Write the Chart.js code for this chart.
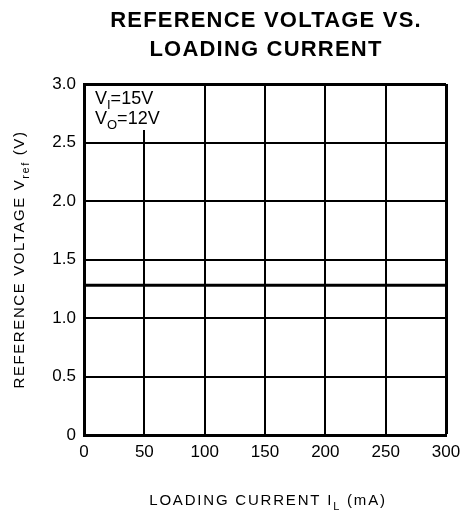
<!DOCTYPE html>
<html>
<head>
<meta charset="utf-8">
<script src="https://cdn.jsdelivr.net/npm/chart.js"></script>
<style>
  html, body { margin: 0; padding: 0; background: #fff; }
  #wrap { width: 462px; height: 517px; }
</style>
</head>
<body>
<div id="wrap"><canvas id="refChart" width="462" height="517"></canvas></div>
<script>
// data
const loadCurrent = [0, 50, 100, 150, 200, 250, 300];        // mA
const refVoltage = [1.28, 1.28, 1.28, 1.28, 1.28, 1.28, 1.28]; // V
const xTicks = [0, 50, 100, 150, 200, 250, 300];
const yTicks = [0, 0.5, 1.0, 1.5, 2.0, 2.5, 3.0];

const FONT = '"Liberation Sans", Arial, Helvetica, sans-serif';

// draw a line of text made of normal / subscript pieces
function drawRich(ctx, parts, x, y, size, align, spacing) {
  ctx.letterSpacing = (spacing || 0) + 'px';
  let total = 0;
  parts.forEach(p => {
    ctx.font = (p.sub ? Math.round(size * 0.72) : size) + 'px ' + FONT;
    p.w = ctx.measureText(p.t).width;
    total += p.w;
  });
  let cx = align === 'center' ? x - total / 2 : x;
  ctx.textAlign = 'left';
  ctx.textBaseline = 'alphabetic';
  parts.forEach(p => {
    ctx.font = (p.sub ? Math.round(size * 0.72) : size) + 'px ' + FONT;
    ctx.fillText(p.t, cx, p.sub ? y + size * 0.3 : y);
    cx += p.w;
  });
  ctx.letterSpacing = '0px';
}

const labelsPlugin = {
  id: 'labels',
  afterDraw(chart) {
    const ctx = chart.ctx;
    const area = chart.chartArea;
    ctx.save();
    ctx.fillStyle = '#000';

    // title
    ctx.font = 'bold 22px ' + FONT;
    ctx.letterSpacing = '1.2px';
    ctx.textAlign = 'center';
    ctx.textBaseline = 'middle';
    ctx.fillText('REFERENCE VOLTAGE VS.', 266, 21);
    ctx.fillText('LOADING CURRENT', 266, 50);
    ctx.letterSpacing = '0px';

    // condition box
    ctx.fillStyle = '#fff';
    ctx.fillRect(area.left + 2, area.top + 2, 112, 44);
    ctx.fillStyle = '#000';
    drawRich(ctx, [{t: 'V'}, {t: 'I', sub: true}, {t: '=15V'}], 95, 104, 18, 'left');
    drawRich(ctx, [{t: 'V'}, {t: 'O', sub: true}, {t: '=12V'}], 95, 124, 18, 'left');

    // x axis title
    drawRich(ctx, [{t: 'LOADING CURRENT I'}, {t: 'L', sub: true}, {t: ' (mA)'}], 268, 505, 15, 'center', 1.8);

    // y axis title
    ctx.translate(24, (area.top + area.bottom) / 2);
    ctx.rotate(-Math.PI / 2);
    drawRich(ctx, [{t: 'REFERENCE VOLTAGE V'}, {t: 'ref', sub: true}, {t: ' (V)'}], 0, 0, 15, 'center', 1.6);
    ctx.restore();
  }
};

new Chart(document.getElementById('refChart'), {
  type: 'line',
  data: {
    datasets: [{
      data: loadCurrent.map((x, i) => ({x: x, y: refVoltage[i]})),
      borderColor: '#000',
      borderWidth: 3,
      pointRadius: 0,
      tension: 0
    }]
  },
  options: {
    responsive: false,
    animation: false,
    layout: { padding: { left: 0, top: 84, right: 16, bottom: 0 } },
    plugins: {
      legend: { display: false },
      tooltip: { enabled: false }
    },
    scales: {
      x: {
        type: 'linear',
        min: 0,
        max: 300,
        afterBuildTicks: s => { s.ticks = xTicks.map(v => ({value: v})); },
        afterFit: s => { s.height = 82; s.paddingRight = 0; s.paddingLeft = 0; },
        grid: {
          color: '#000',
          lineWidth: c => (c.tick && c.tick.value === 300) ? 3 : 2,
          drawTicks: false
        },
        border: { color: '#000', width: 3 },
        ticks: {
          color: '#000',
          padding: 7,
          font: { family: FONT, size: 17 }
        }
      },
      y: {
        min: 0,
        max: 3,
        afterBuildTicks: s => { s.ticks = yTicks.map(v => ({value: v})); },
        afterFit: s => { s.width = 84; s.paddingTop = 0; s.paddingBottom = 0; },
        grid: {
          color: '#000',
          lineWidth: c => (c.tick && c.tick.value === 3) ? 3 : 2,
          drawTicks: false
        },
        border: { color: '#000', width: 3 },
        ticks: {
          color: '#000',
          padding: 8,
          font: { family: FONT, size: 17 },
          callback: v => v === 0 ? '0' : v.toFixed(1)
        }
      }
    }
  },
  plugins: [labelsPlugin]
});
</script>
</body>
</html>
